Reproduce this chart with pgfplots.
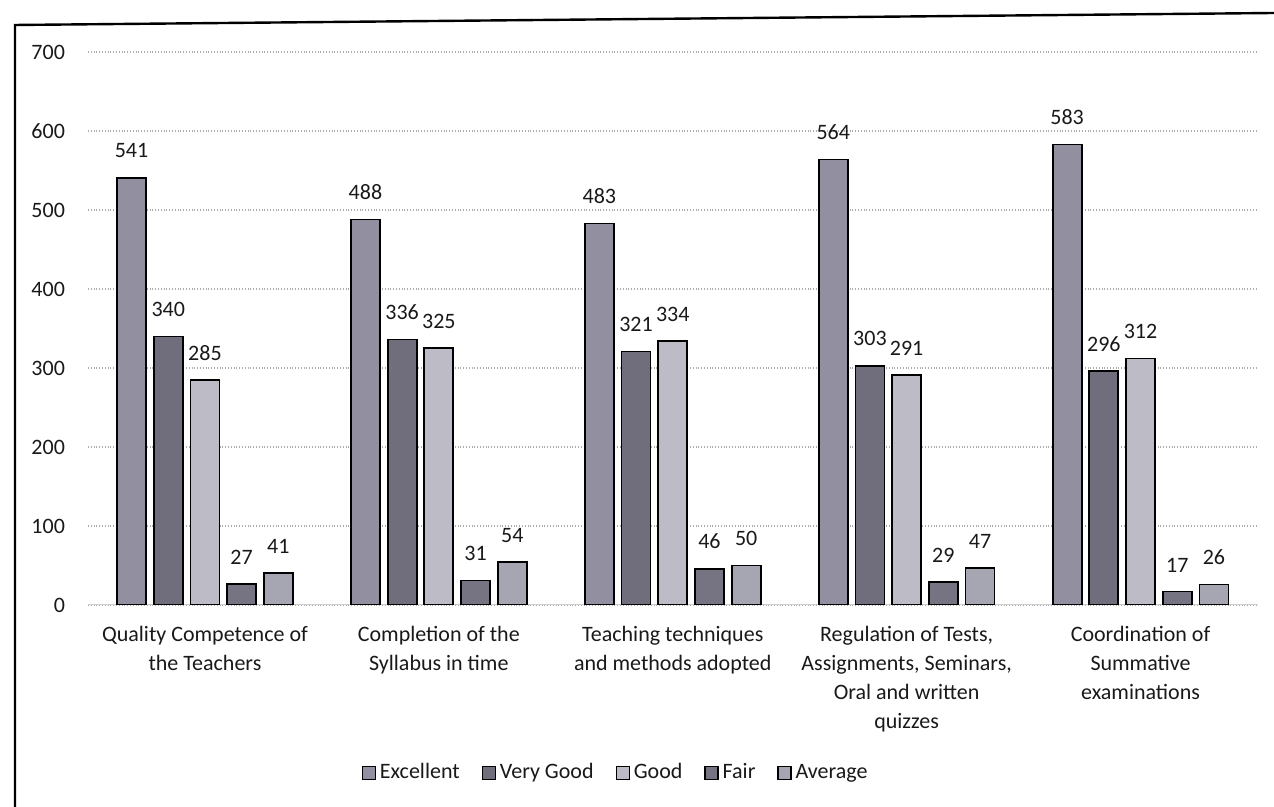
\documentclass[border=0pt]{standalone}
\usepackage{fontspec}
\setmainfont{Carlito}
\usepackage{pgfplots}
\pgfplotsset{compat=1.18}

\definecolor{cExc}{RGB}{146,144,160}
\definecolor{cVG}{RGB}{112,110,124}
\definecolor{cGood}{RGB}{188,187,198}
\definecolor{cFair}{RGB}{118,116,130}
\definecolor{cAvg}{RGB}{166,165,178}
\definecolor{txt}{RGB}{25,25,25}

\begin{document}
\begin{tikzpicture}
\path[use as bounding box] (-44pt,-101pt) rectangle (593pt,302.5pt);
\begin{axis}[
  at={(0pt,0pt)}, anchor=south west,
  scale only axis,
  width=584.75pt, height=276.5pt,
  ybar=3.85pt,
  bar width=14.5pt,
  xmin=-0.5, xmax=4.5,
  ymin=0, ymax=700,
  ytick={0,100,...,700},
  xtick={0,1,2,3,4},
  xticklabels={
    {Quality Competence of\\the Teachers},
    {Completion of the\\Syllabus in time},
    {Teaching techniques\\and methods adopted},
    {Regulation of Tests,\\Assignments, Seminars,\\Oral and written\\quizzes},
    {Coordination of\\Summative\\examinations}},
  xticklabel style={align=center, font=\fontsize{11}{14.5}\selectfont, text=txt, yshift=-3pt},
  yticklabel style={font=\fontsize{11}{14.5}\selectfont, text=txt, xshift=-8pt},
  /pgf/number format/assume math mode=true,
  axis line style={draw=none},
  tick style={draw=none},
  ymajorgrids=true,
  grid style={densely dotted, gray!65, line width=0.6pt},
  nodes near coords,
  nodes near coords style={font=\fontsize{11}{14.5}\selectfont, text=txt, yshift=6pt},
  every axis plot/.append style={draw=black, line width=0.9pt},
  legend image code/.code={\draw[#1, line width=0.6pt] (0pt,-3.25pt) rectangle (6.5pt,3.25pt);},
  legend columns=5,
  legend style={draw=none, at={(0.452,-0.304)}, anchor=center,
    font=\fontsize{11}{14.5}\selectfont, text=txt,
    nodes={inner xsep=2pt, text height=1.6ex, text depth=0.45ex},
    /tikz/every even column/.append style={column sep=9pt}},
]
\draw[gray!40, line width=0.6pt] (axis cs:-0.5,0) -- (axis cs:4.5,0);
\addplot[fill=cExc] coordinates {(0,541) (1,488) (2,483) (3,564) (4,583)};
\addplot[fill=cVG] coordinates {(0,340) (1,336) (2,321) (3,303) (4,296)};
\addplot[fill=cGood] coordinates {(0,285) (1,325) (2,334) (3,291) (4,312)};
\addplot[fill=cFair] coordinates {(0,27) (1,31) (2,46) (3,29) (4,17)};
\addplot[fill=cAvg] coordinates {(0,41) (1,54) (2,50) (3,47) (4,26)};
\legend{Excellent, Very Good, Good, Fair, Average}
\end{axis}
\draw[black, line width=1.2pt] (-36.5pt,-101pt) -- (-36.5pt,290pt) -- (593pt,296pt);
\end{tikzpicture}
\end{document}
